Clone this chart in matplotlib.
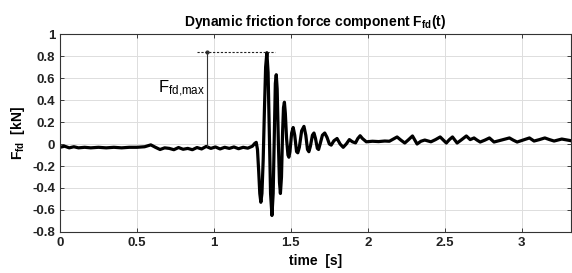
import numpy as np
import matplotlib.pyplot as plt

plt.rcParams['font.family'] = ['Liberation Sans', 'DejaVu Sans']
plt.rcParams['mathtext.fontset'] = 'custom'
plt.rcParams['mathtext.rm'] = 'Liberation Sans'
plt.rcParams['mathtext.bf'] = 'Liberation Sans:bold'

# friction force trace: time [s], force [kN]
t = [0.00, 0.03, 0.06, 0.09, 0.12, 0.16, 0.20, 0.25, 0.30, 0.35, 0.40, 0.45,
     0.50, 0.55, 0.59, 0.62, 0.65, 0.68, 0.71, 0.74, 0.77, 0.80, 0.83, 0.86,
     0.89, 0.92, 0.95, 0.98, 1.01, 1.04, 1.07, 1.10, 1.13, 1.16, 1.19, 1.22,
     1.25, 1.265, 1.275, 1.283, 1.291, 1.298, 1.305, 1.312, 1.320, 1.328,
     1.336, 1.344, 1.352, 1.360, 1.368, 1.377, 1.385, 1.393, 1.399, 1.405,
     1.411, 1.419, 1.426, 1.432, 1.439, 1.446, 1.452, 1.458, 1.464, 1.472,
     1.481, 1.487, 1.494, 1.505, 1.515, 1.525, 1.537, 1.545, 1.555, 1.570,
     1.585, 1.597, 1.608, 1.617, 1.627, 1.640, 1.650, 1.660, 1.672, 1.680,
     1.690, 1.705, 1.720, 1.735, 1.750, 1.762, 1.780, 1.800, 1.820, 1.840,
     1.860, 1.880, 1.900, 1.920, 1.935, 1.950, 1.965, 1.990, 2.03, 2.07,
     2.11, 2.14, 2.165, 2.19, 2.215, 2.24, 2.265, 2.29, 2.32, 2.345, 2.37,
     2.41, 2.44, 2.47, 2.49, 2.51, 2.53, 2.55, 2.58, 2.61, 2.64, 2.665,
     2.69, 2.71, 2.73, 2.76, 2.79, 2.82, 2.87, 2.92, 2.945, 2.97, 3.01,
     3.05, 3.08, 3.115, 3.15, 3.18, 3.21, 3.26, 3.32]
f = [-0.030, -0.020, -0.035, -0.025, -0.035, -0.030, -0.035, -0.030, -0.035,
     -0.030, -0.035, -0.030, -0.030, -0.025, -0.008, -0.030, -0.050, -0.035,
     -0.040, -0.052, -0.032, -0.048, -0.040, -0.052, -0.032, -0.045, -0.022,
     -0.040, -0.027, -0.045, -0.030, -0.040, -0.027, -0.043, -0.030, -0.038,
     -0.020, 0.005, 0.015, -0.050, -0.250, -0.450, -0.530, -0.450, -0.150,
     0.300, 0.700, 0.830, 0.650, 0.100, -0.450, -0.650, -0.450, 0.100, 0.550,
     0.630, 0.500, 0.000, -0.350, -0.450, -0.300, 0.100, 0.330, 0.380, 0.280,
     0.050, -0.100, -0.120, -0.070, 0.100, 0.150, 0.080, -0.070, -0.080,
     -0.030, 0.120, 0.160, 0.080, -0.050, -0.070, -0.020, 0.080, 0.100,
     0.050, -0.040, -0.050, 0.000, 0.080, 0.100, 0.060, 0.000, -0.010, 0.030,
     0.050, 0.000, -0.030, 0.000, 0.040, 0.020, 0.010, 0.050, 0.075, 0.050,
     0.020, 0.025, 0.022, 0.027, 0.025, 0.045, 0.064, 0.035, 0.009, 0.040,
     0.073, 0.000, 0.025, 0.036, 0.020, 0.040, 0.064, 0.036, 0.009, 0.040,
     0.064, 0.009, 0.040, 0.073, 0.040, 0.055, 0.035, 0.018, 0.035, 0.055,
     0.018, 0.036, 0.055, 0.035, 0.018, 0.036, 0.055, 0.027, 0.040, 0.055,
     0.040, 0.027, 0.045, 0.030]

t_max = 0.955      # position of the F_fd,max marker
f_max = 0.835
f_base = -0.02

fig = plt.figure(figsize=(5.72, 2.73), dpi=100)
ax = fig.add_axes([60 / 572, 41 / 273, 511 / 572, 198 / 273])

ax.plot(t, f, color='black', lw=2.3, solid_joinstyle='round')

# annotation of the maximum
ax.plot([t_max, t_max], [f_base, f_max], color='#333333', lw=0.8)
ax.plot([t_max], [f_max], 'o', color='#333333', ms=2)
ax.plot([0.89, 1.40], [f_max, f_max], color='#222222', lw=0.8, ls=(0, (2, 1.5)))
ax.text(t_max - 0.015, 0.41, r'$\mathregular{F_{fd{,}max}}$', ha='right',
        va='bottom', fontsize=12)

ax.set_xlim(0, 3.32)
ax.set_ylim(-0.8, 1)
ax.set_xticks([0, 0.5, 1, 1.5, 2, 2.5, 3])
ax.set_xticklabels(['0', '0.5', '1', '1.5', '2', '2.5', '3'])
ax.set_yticks(np.arange(-0.8, 1.01, 0.2))
ax.set_yticklabels(['-0.8', '-0.6', '-0.4', '-0.2', '0', '0.2', '0.4', '0.6', '0.8', '1'])
ax.grid(True, color='#dddddd', lw=0.7)
ax.tick_params(direction='in', top=True, right=True, length=3, width=0.6,
               labelsize=9.5, colors='#222222')
for lbl in ax.get_xticklabels() + ax.get_yticklabels():
    lbl.set_fontweight('bold')
for s in ax.spines.values():
    s.set_color('#333333')
    s.set_linewidth(0.8)

ax.set_title(r'Dynamic friction force component $\mathbf{F_{fd}(t)}$',
             fontsize=10, fontweight='bold', pad=6)
ax.set_xlabel('time  [s]', fontsize=10, fontweight='bold', labelpad=4)
ax.set_ylabel(r'$\mathbf{F_{fd}}$  [kN]', fontsize=10, fontweight='bold', labelpad=4)

fig.savefig('out.png', dpi=100)
